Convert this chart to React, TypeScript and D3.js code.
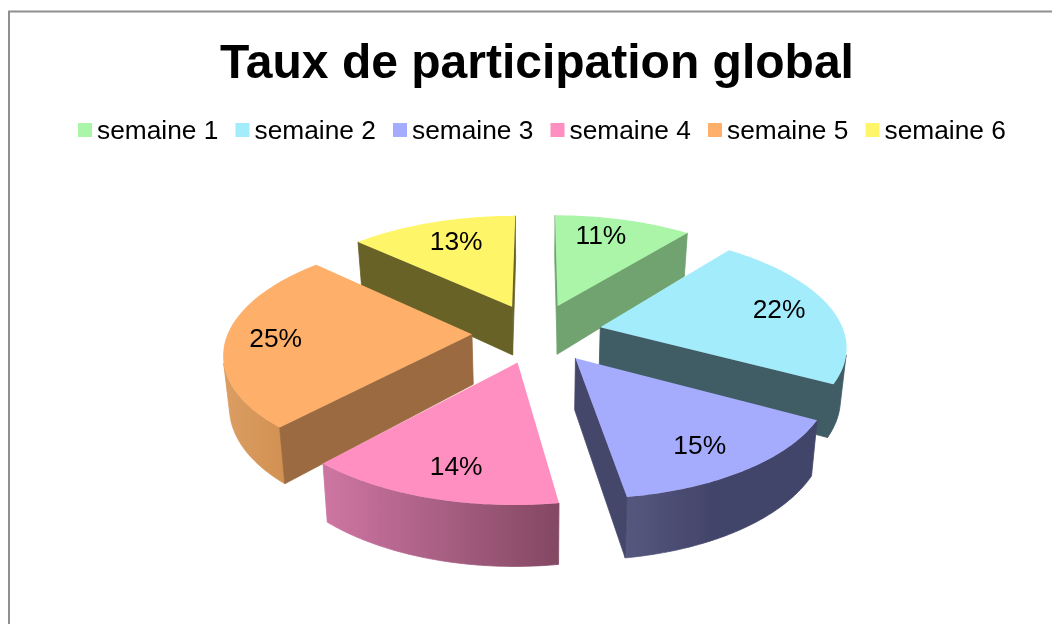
import React from "react";
import * as d3 from "d3";

const titleText = "Taux de participation global";
const categories = ["semaine 1", "semaine 2", "semaine 3", "semaine 4", "semaine 5", "semaine 6"];
const shares = [10.7, 22.3, 14.6, 14.1, 25.3, 13.0];

const topColors = ["#AAF5A8", "#A3ECFC", "#A6ACFD", "#FF8FC0", "#FEAF69", "#FFF568"];
const wallColors = ["#6FA36F", "#415B65", "#44466B", "#834863", "#9B6B3F", "#676228"];
const rimFrom = ["#6FA36F", "#415B65", "#56587F", "#CD75A2", "#DA9C60", "#676228"];
const rimTo = ["#6FA36F", "#415B65", "#43456A", "#834863", "#D29152", "#676228"];
// slices are painted far to near
const paintOrder = [5, 0, 1, 4, 2, 3];
// screen nudges of the data labels
const labelNudge = [[-8, -4], [5, -3], [0, 5], [3, 5], [-11, 0], [6, -1]];

const CX = 537, CY = 333, R = 244, LABEL_R = 184, EXPLODE = 65, TILT = 0.457, PERSP = 0.000608, DEPTH = 50, CONVERGE = 0.98;
const LEGEND_X = 78, LEGEND_STEP = 157.5;

type P = [number, number];
const project = (u: number, v: number, bottom = false): P => {
  const s = 1 / (1 - PERSP * v);
  return bottom
    ? [CX + u * s * CONVERGE, CY + v * TILT * s + DEPTH * s]
    : [CX + u * s, CY + v * TILT * s];
};

const pieGen = d3.pie<number>().sort(null).value((d) => d);
const arcs = pieGen(shares);
const line = d3.line<P>();

function sliceGeom(i: number) {
  const a = arcs[i];
  const mid = (a.startAngle + a.endAngle) / 2;
  const ou = EXPLODE * Math.sin(mid);
  const ov = -EXPLODE * Math.cos(mid);
  const at = (t: number, r: number, b = false) => project(ou + r * Math.sin(t), ov - r * Math.cos(t), b);
  const ts = d3.range(0, 61).map((k) => a.startAngle + ((a.endAngle - a.startAngle) * k) / 60);
  const topRim = ts.map((t) => at(t, R));
  const botRim = ts.map((t) => at(t, R, true));
  const apex = at(0, 0);
  const apexB = at(0, 0, true);
  const top = line([apex, ...topRim])! + "Z";
  // keep only the stretch of the outer wall that faces the viewer
  const shown = d3.range(0, 60).filter((k) => {
    const dx = topRim[k + 1][0] - topRim[k][0];
    const dy = topRim[k + 1][1] - topRim[k][1];
    return dx * (botRim[k][1] - topRim[k][1]) - dy * (botRim[k][0] - topRim[k][0]) < 0;
  });
  const rimIdx = shown.length ? [...shown, shown[shown.length - 1] + 1] : [];
  const rim = rimIdx.length
    ? line([...rimIdx.map((k) => topRim[k]), ...rimIdx.slice().reverse().map((k) => botRim[k])])! + "Z"
    : "";
  const wall = (p: P, pb: P) => line([apex, p, pb, apexB])! + "Z";
  const facing = (p: P, pb: P) =>
    (p[0] - apex[0]) * (pb[1] - p[1] + apexB[1] - apex[1]) - (p[1] - apex[1]) * (pb[0] - p[0] + apexB[0] - apex[0]);
  const walls: string[] = [];
  if (facing(topRim[0], botRim[0]) < 0) walls.push(wall(topRim[0], botRim[0]));
  if (facing(topRim[60], botRim[60]) > 0) walls.push(wall(topRim[60], botRim[60]));
  const xs = rimIdx.length ? rimIdx.map((k) => botRim[k][0]) : [0, 1];
  const label = project((EXPLODE + LABEL_R) * Math.sin(mid), -(EXPLODE + LABEL_R) * Math.cos(mid));
  return { top, rim, walls, x0: d3.min(xs)!, x1: d3.max(xs)!, label };
}

export default function App() {
  const geoms = categories.map((_, i) => sliceGeom(i));
  const font = "'Liberation Sans', Arial, sans-serif";
  return (
    <svg
      width={1052}
      height={624}
      viewBox="0 0 1052 624"
      style={{ position: "absolute", left: 0, top: 0, display: "block", background: "#fff" }}
      fontFamily={font}
    >
      <defs>
        <filter id="soft" x="-5%" y="-5%" width="110%" height="110%">
          <feGaussianBlur stdDeviation="0.6" />
        </filter>
        <filter id="softText" x="-5%" y="-20%" width="110%" height="140%">
          <feGaussianBlur stdDeviation="0.35" />
        </filter>
        {geoms.map((g, i) => (
          <linearGradient key={i} id={`rim${i}`} gradientUnits="userSpaceOnUse" x1={g.x0} x2={g.x1} y1={0} y2={0}>
            <stop offset="0" stopColor={rimFrom[i]} />
            <stop offset={i === 2 ? 0.45 : 1} stopColor={rimTo[i]} />
          </linearGradient>
        ))}
      </defs>
      <path d="M9,624V11.5H1052" fill="none" stroke="#8F8F8F" strokeWidth={2} />
      <g filter="url(#soft)">
        {paintOrder.map((i) => (
          <g key={i}>
            {geoms[i].rim && (
              <path d={geoms[i].rim} fill={`url(#rim${i})`} stroke={`url(#rim${i})`} strokeWidth={0.8} />
            )}
            {geoms[i].walls.map((d, k) => (
              <path key={k} d={d} fill={wallColors[i]} stroke={wallColors[i]} strokeWidth={0.8} />
            ))}
            <path d={geoms[i].top} fill={topColors[i]} />
          </g>
        ))}
      </g>
      <g filter="url(#softText)">
        <text x={CX} y={78} textAnchor="middle" fontSize={48} fontWeight="bold" fill="#000">
          {titleText}
        </text>
        {categories.map((c, i) => (
          <text key={c} x={LEGEND_X + i * LEGEND_STEP + 19} y={139} fontSize={26.3} fill="#000">
            {c}
          </text>
        ))}
        {geoms.map((g, i) => (
          <text
            key={i}
            x={g.label[0] + labelNudge[i][0]}
            y={g.label[1] + labelNudge[i][1]}
            dy="0.35em"
            textAnchor="middle"
            fontSize={26.4}
            fill="#000"
          >
            {d3.format(".0f")(shares[i]) + "%"}
          </text>
        ))}
      </g>
      {categories.map((c, i) => (
        <rect key={c} x={LEGEND_X + i * LEGEND_STEP} y={123} width={14} height={14} fill={topColors[i]} />
      ))}
    </svg>
  );
}
